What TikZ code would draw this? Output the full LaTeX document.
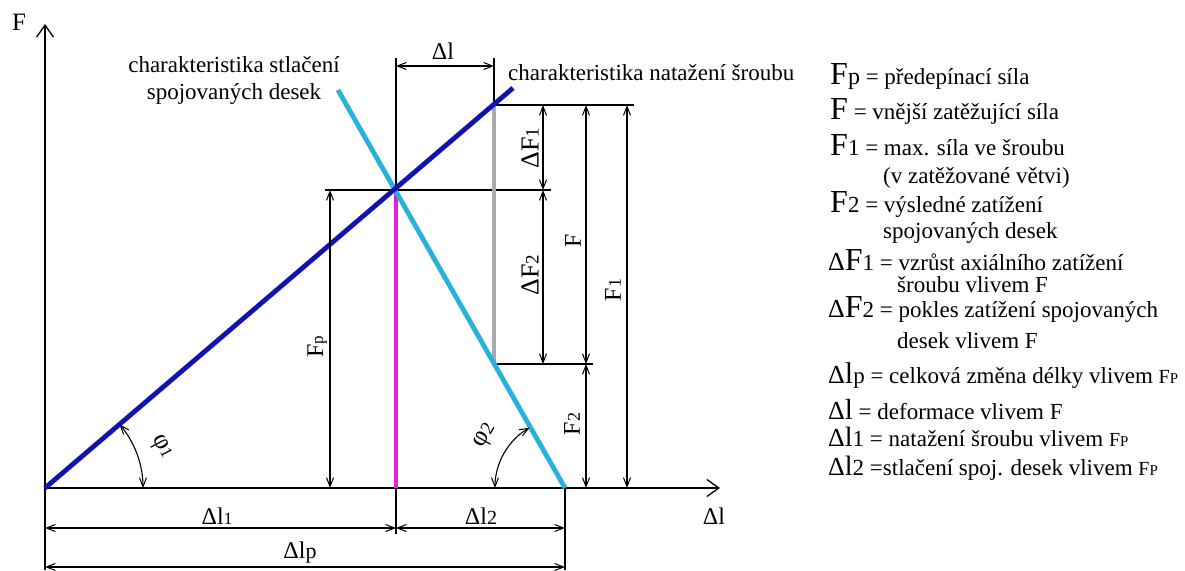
\documentclass[tikz,border=0pt]{standalone}
\usepackage{fontspec}
\setmainfont{Liberation Serif}
\usetikzlibrary{arrows.meta,calc}
\definecolor{boltblue}{RGB}{18,18,178}
\definecolor{plateblue}{RGB}{38,178,218}
\definecolor{magline}{RGB}{222,34,222}
\definecolor{grayline}{RGB}{170,170,170}
\newcommand\fs[2]{{\fontsize{#1}{#1}\selectfont #2}}
\begin{document}
\begin{tikzpicture}[x=1pt,y=-1pt,
  thinl/.style={line width=1.1pt,black},
  barb/.tip={Straight Barb[length=9pt,width=7pt,line width=1pt]},
  dimline/.style={line width=1.1pt,black,barb-barb},
  axis/.style={line width=1.3pt,black,-{Straight Barb[length=12pt,width=17pt,line width=1.3pt]}},
  lbl/.style={inner sep=0pt,font=\fontsize{24}{24}\selectfont},
  rlbl/.style={lbl,rotate=90},
  note/.style={inner sep=0pt,anchor=base west,font=\fontsize{23}{23}\selectfont},
  leg/.style={inner sep=0pt,anchor=base west,font=\fontsize{23}{23}\selectfont},
  thick line/.style={line width=4.8pt},
]
\useasboundingbox (0,0) rectangle (1185,570);
% key points
\coordinate (O) at (45,488);
\coordinate (Ytop) at (45,24);
\coordinate (Xend) at (720,488);
\coordinate (B1) at (513,88);
\coordinate (C0) at (338,90);
\coordinate (P) at (396,190);
\coordinate (Q) at (565,488);
\coordinate (G1) at (494,105);
\coordinate (G2) at (494,364);
\coordinate (M0) at (396,488);
% axes
\draw[axis] (O) -- (Ytop);
\draw[axis] (O) -- (Xend);
\node[lbl,font=\fontsize{25}{25}\selectfont] (Flab) at (19,22) {F};
\node[lbl] (Xlab) at (714,516) {Δl};
% extension lines
\coordinate (h1e) at (634,105);
\coordinate (h2s) at (325,190);
\coordinate (h2e) at (551,190);
\coordinate (h3e) at (593,364);
\coordinate (v1s) at (396,58);
\coordinate (v2s) at (494,58);
\coordinate (b1e) at (45,570);
\coordinate (b2e) at (396,534);
\coordinate (b3e) at (565,570);
\draw[thinl] (G1) -- (h1e);
\draw[thinl] (h2s) -- (h2e);
\draw[thinl] (G2) -- (h3e);
\draw[thinl] (v1s) -- (P);
\draw[thinl] (v2s) -- (G1);
\draw[thinl] (O) -- (b1e);
\draw[thinl] (M0) -- (b2e);
\draw[thinl] (Q) -- (b3e);
% characteristic lines
\draw[thick line,grayline] (G1) -- (G2);
\draw[thick line,magline] (P) -- (M0);
\draw[thick line,plateblue] (C0) -- (Q);
\draw[thick line,boltblue] (O) -- (B1);
% vertical dimensions
\coordinate (dFpT) at (330,190); \coordinate (dFpB) at (330,488);
\coordinate (dF1a) at (543,105); \coordinate (dF1b) at (543,190);
\coordinate (dF2b) at (543,364);
\coordinate (dFa) at (586,105); \coordinate (dFb) at (586,364);
\coordinate (dF2c) at (586,488);
\coordinate (dFFa) at (627,105); \coordinate (dFFb) at (627,488);
\draw[dimline] (dFpT) -- (dFpB);
\draw[dimline] (dF1a) -- (dF1b);
\draw[dimline] (dF1b) -- (dF2b);
\draw[dimline] (dFa) -- (dFb);
\draw[dimline] (dFb) -- (dF2c);
\draw[dimline] (dFFa) -- (dFFb);
\node[rlbl] (lFp) at (317,347) {F\fs{17}{p}};
\node[rlbl,font=\fontsize{26}{26}\selectfont] (ldF1) at (530,148) {ΔF\fs{19}{1}};
\node[rlbl,font=\fontsize{26}{26}\selectfont] (ldF2) at (530,275) {ΔF\fs{19}{2}};
\node[rlbl] (lF) at (573,241) {F};
\node[rlbl] (lF2) at (572,424) {F\fs{18}{2}};
\node[rlbl] (lF1) at (613,290) {F\fs{18}{1}};
% horizontal dimensions
\coordinate (dla) at (396,66); \coordinate (dlb) at (494,66);
\coordinate (l1a) at (45,528); \coordinate (l1b) at (396,528);
\coordinate (l2b) at (565,528);
\coordinate (lpa) at (45,567); \coordinate (lpb) at (565,567);
\draw[dimline] (dla) -- (dlb);
\draw[dimline] (l1a) -- (l1b);
\draw[dimline] (l1b) -- (l2b);
\draw[dimline] (lpa) -- (lpb);
\node[lbl] (ldl) at (443,51) {Δl};
\node[lbl] (ldl1) at (217,516) {Δl\fs{17}{1}};
\node[lbl] (ldl2) at (481,516) {Δl\fs{20}{2}};
\node[lbl] (ldlp) at (300,553) {Δl\fs{22}{p}};
% angles
\draw[dimline] ($(O)+(0:98)$) arc[start angle=0,end angle=-40.5,radius=98];
\draw[dimline] ($(Q)+(180:70)$) arc[start angle=180,end angle=239.7,radius=70];
\node[lbl,rotate=-62,font=\fontsize{26}{26}\selectfont] (phi1) at (161,447) {φ\fs{17}{1}};
\node[lbl,rotate=60,font=\fontsize{26}{26}\selectfont] (phi2) at (486,436) {φ\fs{19}{2}};
% curve notes
\node[inner sep=0pt,align=center,font=\fontsize{23}{27}\selectfont] (nplate) at (234,80) {charakteristika stlačení\\spojovaných desek};
\node[note] (nbolt) at (508,80) {charakteristika natažení šroubu};
% legend
\node[leg] (L1) at (830,84) {\fs{32}{F}\fs{24}{p} = předepínací síla};
\node[leg] (L2) at (830,119) {\fs{32}{F} = vnější zatěžující síla};
\node[leg] (L3) at (830,155) {\fs{32}{F}1 = max. síla ve šroubu};
\node[leg] (L3b) at (883,183) {(v zatěžované větvi)};
\node[leg] (L4) at (830,212) {\fs{32}{F}2 = výsledné zatížení};
\node[leg] (L4b) at (883,238) {spojovaných desek};
\node[leg] (L5) at (828,270) {\fs{26}{Δ}\fs{32}{F}1 = vzrůst axiálního zatížení};
\node[leg] (L5b) at (897,292) {šroubu vlivem F};
\node[leg] (L6) at (828,317) {\fs{26}{Δ}\fs{32}{F}2 = pokles zatížení spojovaných};
\node[leg] (L6b) at (897,348) {desek vlivem F};
\node[leg] (L7) at (828,383) {\fs{26}{Δ}\fs{30}{l}p = celková změna délky vlivem \fs{20}{F}\fs{15}{P}};
\node[leg] (L8) at (828,419) {\fs{26}{Δ}\fs{29}{l} = deformace vlivem F};
\node[leg] (L9) at (828,446) {\fs{26}{Δ}\fs{28}{l}1 = natažení šroubu vlivem \fs{20}{F}\fs{15}{P}};
\node[leg] (L10) at (828,475) {\fs{26}{Δ}\fs{28}{l}2 =stlačení spoj. desek vlivem \fs{20}{F}\fs{15}{P}};
\end{tikzpicture}
\end{document}
